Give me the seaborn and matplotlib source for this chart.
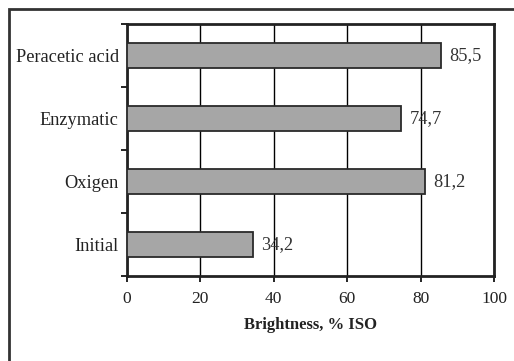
import matplotlib
matplotlib.use("Agg")
import matplotlib.pyplot as plt
import seaborn as sns
import pandas as pd
from matplotlib.patches import Rectangle
from matplotlib.ticker import FixedLocator

categories = ["Peracetic acid", "Enzymatic", "Oxigen", "Initial"]
values = [85.5, 74.7, 81.2, 34.2]
value_labels = ["85,5", "74,7", "81,2", "34,2"]
x_ticks = [0, 20, 40, 60, 80, 100]

sns.set_theme(style="white")
plt.rcParams["font.family"] = ["Liberation Serif", "DejaVu Serif"]

df = pd.DataFrame({"method": categories, "brightness": values})

fig = plt.figure(figsize=(5.14, 3.61), dpi=100)
ax = fig.add_axes([127/514, 1-276/361, (494-127)/514, (276-24)/361])

sns.barplot(data=df, x="brightness", y="method", order=categories, ax=ax,
            color="#A6A6A6", saturation=1, width=0.4,
            edgecolor="#2a2a2a", linewidth=1.3, zorder=3)

ax.set_xlim(0, 100)
ax.set_ylim(3.5, -0.5)
ax.set_xticks(x_ticks)
ax.set_xticklabels([str(t) for t in x_ticks], fontsize=12.5, color="#222222")
ax.xaxis.grid(True, color="black", linewidth=1.0, zorder=0)
ax.set_axisbelow(True)
ax.tick_params(axis="x", which="major", direction="out", length=4, width=1.2,
               color="black", bottom=True, pad=7)
ax.tick_params(axis="y", which="major", length=0, labelsize=13.2, pad=6,
               labelcolor="#222222")
ax.yaxis.set_minor_locator(FixedLocator([-0.5, 0.5, 1.5, 2.5, 3.5]))
ax.tick_params(axis="y", which="minor", direction="out", length=4, width=1.2,
               color="black", left=True)
ax.set_ylabel("")
ax.set_xlabel("Brightness, % ISO", fontsize=12, fontweight="bold", labelpad=7,
              color="#222222")

for s in ax.spines.values():
    s.set_visible(True)
    s.set_color("#222222")
    s.set_linewidth(2.0)

for i, (v, lab) in enumerate(zip(values, value_labels)):
    ax.annotate(lab, (v, i), xytext=(6, 0), textcoords="offset points",
                va="center", ha="left", fontsize=13.2, color="#333333", zorder=4)

# outer frame (cut by figure edge on right and bottom)
fig.patches.append(Rectangle((9/514, -0.1), 1.2, 1 - 9/361 + 0.1,
                             transform=fig.transFigure, fill=False,
                             edgecolor="#333333", linewidth=2.0))

fig.savefig("out.png", dpi=100)
